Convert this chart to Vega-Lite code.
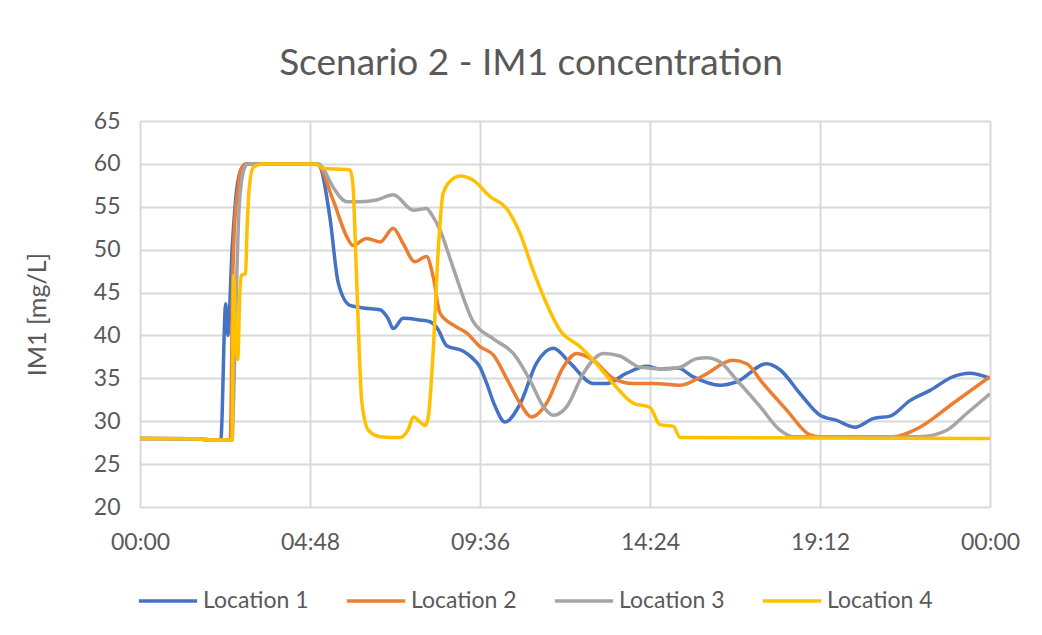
{
  "$schema": "https://vega.github.io/schema/vega-lite/v6.json",
  "autosize": {"type": "none"},
  "padding": {"left": 140, "top": 121, "right": 52, "bottom": 128},
  "width": 850,
  "height": 386,
  "background": "white",
  "title": {
    "text": "Scenario 2 - IM1 concentration",
    "font": "Lato",
    "fontSize": 37,
    "fontWeight": "normal",
    "color": "#595959",
    "anchor": "middle",
    "frame": "group",
    "dx": -34,
    "offset": 27
  },
  "datasets": {
    "raw": [
      {"s":"Location 1","t":0,"v":28},{"s":"Location 1","t":1.5,"v":27.95},{"s":"Location 1","t":2.2,"v":27.8},{"s":"Location 1","t":2.28,"v":27.8},{"s":"Location 1","t":2.42,"v":43.7},{"s":"Location 1","t":2.48,"v":40},{"s":"Location 1","t":2.6,"v":50},{"s":"Location 1","t":2.73,"v":57},{"s":"Location 1","t":2.88,"v":59.6},{"s":"Location 1","t":3.0,"v":60},{"s":"Location 1","t":4.95,"v":60},{"s":"Location 1","t":5.08,"v":59.7},{"s":"Location 1","t":5.36,"v":53.8},{"s":"Location 1","t":5.6,"v":46.1},{"s":"Location 1","t":5.93,"v":43.5},{"s":"Location 1","t":6.3,"v":43.2},{"s":"Location 1","t":6.78,"v":43.0},{"s":"Location 1","t":7.0,"v":42.0},{"s":"Location 1","t":7.15,"v":40.8},{"s":"Location 1","t":7.43,"v":42.0},{"s":"Location 1","t":7.9,"v":41.8},{"s":"Location 1","t":8.19,"v":41.6},{"s":"Location 1","t":8.4,"v":40.8},{"s":"Location 1","t":8.66,"v":38.8},{"s":"Location 1","t":9.12,"v":38.2},{"s":"Location 1","t":9.35,"v":37.5},{"s":"Location 1","t":9.6,"v":36.3},{"s":"Location 1","t":9.79,"v":34.4},{"s":"Location 1","t":10.0,"v":32.0},{"s":"Location 1","t":10.31,"v":29.9},{"s":"Location 1","t":10.73,"v":32.0},{"s":"Location 1","t":11.2,"v":36.8},{"s":"Location 1","t":11.67,"v":38.5},{"s":"Location 1","t":12.14,"v":36.8},{"s":"Location 1","t":12.8,"v":34.4},{"s":"Location 1","t":13.18,"v":34.4},{"s":"Location 1","t":13.74,"v":35.6},{"s":"Location 1","t":14.31,"v":36.4},{"s":"Location 1","t":14.68,"v":36.1},{"s":"Location 1","t":15.19,"v":36.2},{"s":"Location 1","t":15.61,"v":35.2},{"s":"Location 1","t":16.38,"v":34.2},{"s":"Location 1","t":16.85,"v":34.6},{"s":"Location 1","t":17.69,"v":36.7},{"s":"Location 1","t":18.07,"v":36.0},{"s":"Location 1","t":18.64,"v":33.2},{"s":"Location 1","t":19.2,"v":30.7},{"s":"Location 1","t":19.67,"v":30.1},{"s":"Location 1","t":20.19,"v":29.3},{"s":"Location 1","t":20.7,"v":30.3},{"s":"Location 1","t":21.18,"v":30.6},{"s":"Location 1","t":21.74,"v":32.4},{"s":"Location 1","t":22.31,"v":33.6},{"s":"Location 1","t":22.96,"v":35.2},{"s":"Location 1","t":23.43,"v":35.6},{"s":"Location 1","t":24,"v":35.0},
      {"s":"Location 2","t":0,"v":28},{"s":"Location 2","t":1.5,"v":27.95},{"s":"Location 2","t":2.2,"v":27.8},{"s":"Location 2","t":2.55,"v":27.8},{"s":"Location 2","t":2.62,"v":47},{"s":"Location 2","t":2.66,"v":52},{"s":"Location 2","t":2.75,"v":56.5},{"s":"Location 2","t":2.85,"v":59.3},{"s":"Location 2","t":3.0,"v":60},{"s":"Location 2","t":5.0,"v":60},{"s":"Location 2","t":5.45,"v":55.8},{"s":"Location 2","t":5.84,"v":51.5},{"s":"Location 2","t":6.01,"v":50.5},{"s":"Location 2","t":6.4,"v":51.3},{"s":"Location 2","t":6.78,"v":50.9},{"s":"Location 2","t":7.15,"v":52.5},{"s":"Location 2","t":7.43,"v":50.7},{"s":"Location 2","t":7.76,"v":48.6},{"s":"Location 2","t":8.09,"v":49.2},{"s":"Location 2","t":8.28,"v":46.8},{"s":"Location 2","t":8.47,"v":42.6},{"s":"Location 2","t":8.85,"v":41.2},{"s":"Location 2","t":9.22,"v":40.3},{"s":"Location 2","t":9.6,"v":38.7},{"s":"Location 2","t":9.98,"v":37.7},{"s":"Location 2","t":10.35,"v":35.0},{"s":"Location 2","t":10.73,"v":32.1},{"s":"Location 2","t":11.06,"v":30.5},{"s":"Location 2","t":11.48,"v":32.1},{"s":"Location 2","t":11.95,"v":36.3},{"s":"Location 2","t":12.33,"v":37.9},{"s":"Location 2","t":12.8,"v":37.1},{"s":"Location 2","t":13.36,"v":35.0},{"s":"Location 2","t":13.93,"v":34.4},{"s":"Location 2","t":14.48,"v":34.4},{"s":"Location 2","t":15.25,"v":34.2},{"s":"Location 2","t":15.9,"v":35.3},{"s":"Location 2","t":16.74,"v":37.1},{"s":"Location 2","t":17.13,"v":36.7},{"s":"Location 2","t":17.59,"v":34.4},{"s":"Location 2","t":18.26,"v":31.3},{"s":"Location 2","t":18.92,"v":28.4},{"s":"Location 2","t":19.2,"v":28.2},{"s":"Location 2","t":21.26,"v":28.2},{"s":"Location 2","t":22.02,"v":29.3},{"s":"Location 2","t":22.96,"v":32.1},{"s":"Location 2","t":24,"v":35.2},
      {"s":"Location 3","t":0,"v":28},{"s":"Location 3","t":1.5,"v":27.95},{"s":"Location 3","t":2.2,"v":27.8},{"s":"Location 3","t":2.6,"v":27.8},{"s":"Location 3","t":2.64,"v":32},{"s":"Location 3","t":2.72,"v":45},{"s":"Location 3","t":2.8,"v":55},{"s":"Location 3","t":2.95,"v":59.5},{"s":"Location 3","t":3.05,"v":60},{"s":"Location 3","t":5.05,"v":60},{"s":"Location 3","t":5.13,"v":59.7},{"s":"Location 3","t":5.45,"v":57.3},{"s":"Location 3","t":5.84,"v":55.6},{"s":"Location 3","t":6.21,"v":55.6},{"s":"Location 3","t":6.68,"v":55.8},{"s":"Location 3","t":7.15,"v":56.4},{"s":"Location 3","t":7.72,"v":54.6},{"s":"Location 3","t":8.09,"v":54.8},{"s":"Location 3","t":8.25,"v":54.0},{"s":"Location 3","t":8.47,"v":52.3},{"s":"Location 3","t":8.85,"v":47.8},{"s":"Location 3","t":9.41,"v":41.6},{"s":"Location 3","t":9.98,"v":39.6},{"s":"Location 3","t":10.54,"v":37.9},{"s":"Location 3","t":11.01,"v":34.8},{"s":"Location 3","t":11.39,"v":31.7},{"s":"Location 3","t":11.67,"v":30.7},{"s":"Location 3","t":12.05,"v":31.7},{"s":"Location 3","t":12.52,"v":35.6},{"s":"Location 3","t":13.08,"v":37.9},{"s":"Location 3","t":13.55,"v":37.6},{"s":"Location 3","t":14.12,"v":36.3},{"s":"Location 3","t":14.87,"v":36.1},{"s":"Location 3","t":15.25,"v":36.3},{"s":"Location 3","t":15.72,"v":37.3},{"s":"Location 3","t":16.0,"v":37.4},{"s":"Location 3","t":16.38,"v":36.9},{"s":"Location 3","t":16.85,"v":34.8},{"s":"Location 3","t":17.51,"v":31.7},{"s":"Location 3","t":18.07,"v":28.95},{"s":"Location 3","t":18.44,"v":28.2},{"s":"Location 3","t":22.02,"v":28.2},{"s":"Location 3","t":22.78,"v":28.95},{"s":"Location 3","t":23.34,"v":30.9},{"s":"Location 3","t":24,"v":33.2},
      {"s":"Location 4","t":0,"v":28},{"s":"Location 4","t":1.5,"v":27.95},{"s":"Location 4","t":2.2,"v":27.8},{"s":"Location 4","t":2.6,"v":27.8},{"s":"Location 4","t":2.64,"v":47},{"s":"Location 4","t":2.7,"v":40},{"s":"Location 4","t":2.76,"v":37.2},{"s":"Location 4","t":2.82,"v":45},{"s":"Location 4","t":2.86,"v":47},{"s":"Location 4","t":2.98,"v":47.2},{"s":"Location 4","t":3.02,"v":52},{"s":"Location 4","t":3.08,"v":57},{"s":"Location 4","t":3.2,"v":59.6},{"s":"Location 4","t":3.45,"v":60},{"s":"Location 4","t":4.95,"v":60},{"s":"Location 4","t":5.17,"v":59.5},{"s":"Location 4","t":5.93,"v":59.3},{"s":"Location 4","t":6.01,"v":57.7},{"s":"Location 4","t":6.12,"v":46.1},{"s":"Location 4","t":6.26,"v":32.4},{"s":"Location 4","t":6.45,"v":28.95},{"s":"Location 4","t":6.78,"v":28.2},{"s":"Location 4","t":7.34,"v":28.1},{"s":"Location 4","t":7.58,"v":29.1},{"s":"Location 4","t":7.72,"v":30.5},{"s":"Location 4","t":7.91,"v":29.9},{"s":"Location 4","t":8.05,"v":29.5},{"s":"Location 4","t":8.14,"v":30.5},{"s":"Location 4","t":8.28,"v":38.3},{"s":"Location 4","t":8.42,"v":49.9},{"s":"Location 4","t":8.56,"v":56.6},{"s":"Location 4","t":8.85,"v":58.3},{"s":"Location 4","t":9.04,"v":58.6},{"s":"Location 4","t":9.41,"v":58.1},{"s":"Location 4","t":9.88,"v":56.2},{"s":"Location 4","t":10.35,"v":54.8},{"s":"Location 4","t":10.73,"v":51.9},{"s":"Location 4","t":11.1,"v":47.6},{"s":"Location 4","t":11.48,"v":43.7},{"s":"Location 4","t":11.86,"v":40.6},{"s":"Location 4","t":12.42,"v":38.7},{"s":"Location 4","t":12.89,"v":36.7},{"s":"Location 4","t":13.36,"v":34.4},{"s":"Location 4","t":13.93,"v":32.1},{"s":"Location 4","t":14.4,"v":31.6},{"s":"Location 4","t":14.68,"v":29.6},{"s":"Location 4","t":15.06,"v":29.4},{"s":"Location 4","t":15.25,"v":28.1},{"s":"Location 4","t":24,"v":28.0}
    ]
  },
  "data": {"name": "raw"},
  "mark": {"type": "line", "strokeWidth": 3.5, "interpolate": "monotone", "clip": true},
  "encoding": {
    "x": {
      "field": "t",
      "type": "quantitative",
      "scale": {"domain": [0, 24], "nice": false, "zero": false},
      "axis": {
        "title": null,
        "values": [0, 4.8, 9.6, 14.4, 19.2, 24],
        "labelExpr": "(floor(datum.value) % 24 < 10 ? '0' : '') + (floor(datum.value) % 24) + ':' + (round((datum.value % 1) * 60) < 10 ? '0' : '') + round((datum.value % 1) * 60)",
        "labelPadding": 24,
        "labelFlush": false
      }
    },
    "y": {
      "field": "v",
      "type": "quantitative",
      "scale": {"domain": [20, 65], "nice": false, "zero": false},
      "axis": {
        "title": "IM1 [mg/L]",
        "values": [20, 25, 30, 35, 40, 45, 50, 55, 60, 65],
        "labelPadding": 20,
        "titlePadding": 43
      }
    },
    "color": {
      "field": "s",
      "type": "nominal",
      "scale": {
        "domain": ["Location 1", "Location 2", "Location 3", "Location 4"],
        "range": ["#4472C4", "#ED7D31", "#A5A5A5", "#FFC000"]
      },
      "legend": {
        "title": null,
        "orient": "none",
        "direction": "horizontal",
        "legendX": -3,
        "legendY": 449,
        "symbolType": "stroke",
        "symbolSize": 3400,
        "symbolStrokeWidth": 3.5,
        "labelFont": "Lato",
        "labelFontSize": 23,
        "labelColor": "#595959",
        "labelOffset": 4,
        "columnPadding": 30,
        "padding": 0
      }
    }
  },
  "config": {
    "view": {"stroke": null},
    "axis": {
      "domain": false,
      "ticks": false,
      "grid": true,
      "gridColor": "#D9D9D9",
      "gridWidth": 2,
      "labelFont": "Lato",
      "labelFontSize": 23,
      "labelColor": "#595959",
      "titleFont": "Lato",
      "titleFontSize": 25,
      "titleFontWeight": "normal",
      "titleColor": "#595959"
    }
  }
}
